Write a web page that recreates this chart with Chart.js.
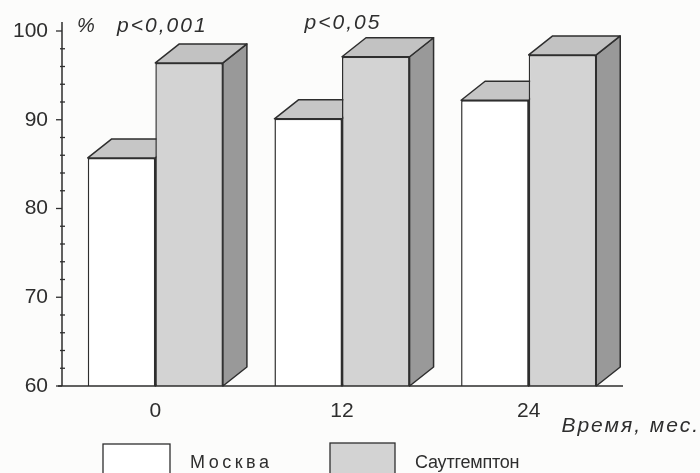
<!DOCTYPE html>
<html>
<head>
<meta charset="utf-8">
<script src="https://cdn.jsdelivr.net/npm/chart.js"></script>
<style>
  html, body { margin: 0; padding: 0; background: #fcfcfb; }
  canvas { display: block; }
</style>
</head>
<body>
<canvas id="grafico" width="700" height="473"></canvas>
<script>
// datos
const categorias = ['0', '12', '24'];
const moskva = [85.7, 90.1, 92.2];
const southampton = [96.4, 97.1, 97.3];
const pValores = ['p<0,001', 'p<0,05', ''];
const etiquetasY = [60, 70, 80, 90, 100];

const DX = 24, DY = 19; // profundidad 3D
const LINEA = '#2e2e2e';
const FUENTE = '"Liberation Sans", Arial, sans-serif';

const caras = [
    { front: '#ffffff', top: '#c6c6c6', side: '#a0a0a0' },
    { front: '#d3d3d3', top: '#c2c2c2', side: '#999999' }
];

function poly(ctx, pts, fill) {
    ctx.beginPath();
    ctx.moveTo(pts[0][0], pts[0][1]);
    for (let i = 1; i < pts.length; i++) ctx.lineTo(pts[i][0], pts[i][1]);
    ctx.closePath();
    ctx.fillStyle = fill;
    ctx.fill();
    ctx.stroke();
}

const barras3d = {
    id: 'barras3d',
    beforeDatasetsDraw(chart) {
        const ctx = chart.ctx;
        const a = chart.chartArea;
        ctx.save();
        ctx.strokeStyle = LINEA;
        ctx.lineWidth = 1.5;
        ctx.lineJoin = 'round';
        chart.data.datasets.forEach((ds, i) => {
            chart.getDatasetMeta(i).data.forEach(bar => {
                const l = bar.x - bar.width / 2, r = bar.x + bar.width / 2;
                const t = bar.y, b = Math.min(bar.base, a.bottom);
                poly(ctx, [[r, t], [r + DX, t - DY], [r + DX, b - DY], [r, b]], caras[i].side);
                poly(ctx, [[l, t], [l + DX, t - DY], [r + DX, t - DY], [r, t]], caras[i].top);
            });
        });
        ctx.restore();
    },
    afterDraw(chart) {
        const ctx = chart.ctx;
        const x = chart.scales.x, y = chart.scales.y;
        const a = chart.chartArea;
        ctx.save();
        ctx.strokeStyle = LINEA;
        ctx.lineWidth = 1.5;
        // ejes
        ctx.beginPath();
        ctx.moveTo(a.left, a.bottom);
        ctx.lineTo(a.left, a.top - 9);
        ctx.moveTo(a.left - 4, a.bottom);
        ctx.lineTo(a.right + 1, a.bottom);
        ctx.stroke();
        // marcas
        ctx.lineWidth = 1.3;
        y.ticks.forEach(t => {
            const py = y.getPixelForValue(t.value);
            ctx.beginPath();
            if (etiquetasY.includes(t.value)) {
                ctx.moveTo(a.left - 6, py);
                ctx.lineTo(a.left, py);
            } else {
                ctx.moveTo(a.left - 2, py);
                ctx.lineTo(a.left + 3, py);
            }
            ctx.stroke();
        });
        // textos
        ctx.fillStyle = LINEA;
        ctx.textBaseline = 'alphabetic';
        ctx.font = 'italic 20px ' + FUENTE;
        ctx.textAlign = 'left';
        ctx.fillText('%', a.left + 15, 32);
        ctx.font = 'italic 21px ' + FUENTE;
        ctx.letterSpacing = '2px';
        ctx.textAlign = 'center';
        pValores.forEach((p, i) => {
            if (p) ctx.fillText(p, x.getPixelForValue(i) + (i === 0 ? 7 : 1), i === 0 ? 32 : 29);
        });
        ctx.textAlign = 'right';
        ctx.fillText('Время, мес.', 700, 432);
        // leyenda
        const leyenda = [
            { x: 103, w: 67, top: 444, tx: 190, esp: '3.5px' },
            { x: 330, w: 65, top: 443, tx: 415, esp: '-0.2px' }
        ];
        ctx.font = '18px ' + FUENTE;
        ctx.textAlign = 'left';
        chart.data.datasets.forEach((ds, i) => {
            const L = leyenda[i];
            ctx.fillStyle = caras[i].front;
            ctx.fillRect(L.x, L.top, L.w, 40);
            ctx.strokeRect(L.x, L.top, L.w, 40);
            ctx.fillStyle = LINEA;
            ctx.letterSpacing = L.esp;
            ctx.fillText(ds.label, L.tx, 468);
        });
        ctx.restore();
    }
};

new Chart(document.getElementById('grafico'), {
    type: 'bar',
    data: {
        labels: categorias,
        datasets: [{
            label: 'Москва',
            data: moskva,
            backgroundColor: caras[0].front,
            borderColor: LINEA,
            borderWidth: 1.5,
            borderSkipped: 'bottom'
        }, {
            label: 'Саутгемптон',
            data: southampton,
            backgroundColor: caras[1].front,
            borderColor: LINEA,
            borderWidth: 1.5,
            borderSkipped: 'bottom'
        }]
    },
    options: {
        responsive: false,
        animation: false,
        devicePixelRatio: 1,
        layout: { padding: { top: 31, right: 78, left: 0, bottom: 0 } },
        categoryPercentage: 0.724,
        barPercentage: 1.0,
        plugins: { legend: { display: false }, tooltip: { enabled: false } },
        scales: {
            x: {
                grid: { display: false },
                border: { display: false },
                ticks: {
                    color: LINEA,
                    padding: 5,
                    font: { family: FUENTE, size: 21 }
                },
                afterFit: s => { s.height = 87; }
            },
            y: {
                min: 60,
                max: 100,
                grid: { display: false },
                border: { display: false },
                afterBuildTicks: s => {
                    const t = [];
                    for (let v = 60; v <= 100; v += 2) t.push({ value: v });
                    s.ticks = t;
                },
                ticks: {
                    color: LINEA,
                    padding: 6,
                    autoSkip: false,
                    font: { family: FUENTE, size: 21 },
                    callback: v => etiquetasY.includes(v) ? String(v) : ''
                },
                afterFit: s => { s.width = 62; }
            }
        }
    },
    plugins: [barras3d]
});
</script>
</body>
</html>
